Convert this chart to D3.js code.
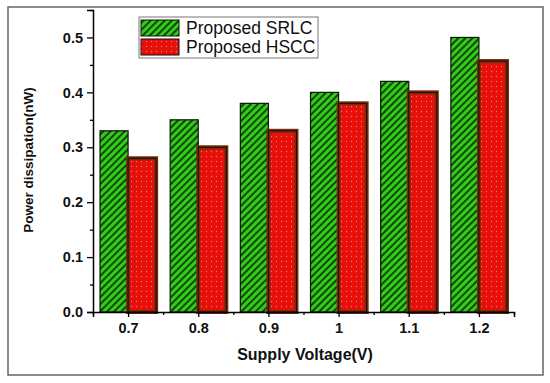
<!DOCTYPE html>
<html>
<head>
<meta charset="utf-8">
<script src="https://cdn.jsdelivr.net/npm/d3@7"></script>
<style>
  body { margin: 0; background: #fff; }
  svg { font-family: Arial, "Liberation Sans", sans-serif; }
</style>
</head>
<body>
<svg id="chart" width="550" height="383"></svg>
<script>
// 数据
const voltages = [0.7, 0.8, 0.9, 1.0, 1.1, 1.2];
const srlcValues = [0.33, 0.35, 0.38, 0.40, 0.42, 0.50];
const hsccValues = [0.28, 0.30, 0.33, 0.38, 0.40, 0.457];
const seriesNames = ['Proposed SRLC', 'Proposed HSCC'];
const yTicks = [0.0, 0.1, 0.2, 0.3, 0.4, 0.5];

const svg = d3.select('#chart');
const margin = { left: 93, right: 36, top: 10, bottom: 71 };
const W = 550, H = 383;

// 比例尺
const x = d3.scaleLinear().domain([0.65, 1.25]).range([margin.left, W - margin.right]);
const y = d3.scaleLinear().domain([0, 0.55]).range([H - margin.bottom, margin.top]);
const barW = 0.04;

// 填充图案
const defs = svg.append('defs');
const green = defs.append('pattern').attr('id', 'hatch')
    .attr('patternUnits', 'userSpaceOnUse').attr('width', 5).attr('height', 5)
    .attr('patternTransform', 'rotate(45)');
green.append('rect').attr('width', 5).attr('height', 5).attr('fill', '#33cc1a');
green.append('rect').attr('width', 2).attr('height', 5).attr('fill', '#0d4a08');

const red = defs.append('pattern').attr('id', 'dots')
    .attr('patternUnits', 'userSpaceOnUse').attr('width', 5).attr('height', 5);
red.append('rect').attr('width', 5).attr('height', 5).attr('fill', '#e60f0a');
red.append('circle').attr('cx', 1.5).attr('cy', 1.5).attr('r', 0.7).attr('fill', '#f07a60');

// 外框
svg.append('rect').attr('x', 8).attr('y', 7).attr('width', 535).attr('height', 368)
    .attr('fill', 'none').attr('stroke', '#666').attr('stroke-width', 1.5);

// 柱子
const g = svg.append('g');
g.selectAll('.srlc').data(voltages).enter().append('rect')
    .attr('x', d => x(d - barW))
    .attr('y', (d, i) => y(srlcValues[i]))
    .attr('width', d => x(d) - x(d - barW))
    .attr('height', (d, i) => y(0) - y(srlcValues[i]))
    .attr('fill', 'url(#hatch)').attr('stroke', '#111').attr('stroke-width', 1.2);

g.selectAll('.hscc').data(voltages).enter().append('rect')
    .attr('x', d => x(d))
    .attr('y', (d, i) => y(hsccValues[i]))
    .attr('width', d => x(d + barW) - x(d))
    .attr('height', (d, i) => y(0) - y(hsccValues[i]))
    .attr('fill', 'url(#dots)').attr('stroke', '#7a2a0a').attr('stroke-width', 4);
g.selectAll('.hsccEdge').data(voltages).enter().append('rect')
    .attr('x', d => x(d))
    .attr('y', (d, i) => y(hsccValues[i]))
    .attr('width', d => x(d + barW) - x(d))
    .attr('height', (d, i) => y(0) - y(hsccValues[i]))
    .attr('fill', 'none').attr('stroke', '#111').attr('stroke-width', 1);

// 坐标轴
svg.append('g').attr('transform', `translate(0,${y(0)})`)
    .call(d3.axisBottom(x).tickValues(voltages).tickSize(5).tickPadding(6)
        .tickFormat(d => d === 1 ? '1' : d3.format('.1f')(d)));
svg.append('g').attr('transform', `translate(0,${y(0)})`)
    .call(d3.axisBottom(x).tickValues(d3.range(0.65, 1.26, 0.1)).tickSize(3).tickFormat(''))
    .select('.domain').remove();

svg.append('g').attr('transform', `translate(${x(0.65)},0)`)
    .call(d3.axisLeft(y).tickValues(yTicks).tickSize(6).tickPadding(4)
        .tickFormat(d3.format('.1f')));
svg.append('g').attr('transform', `translate(${x(0.65)},0)`)
    .call(d3.axisLeft(y).tickValues([0.05, 0.15, 0.25, 0.35, 0.45, 0.55]).tickSize(3).tickFormat(''))
    .select('.domain').remove();

svg.selectAll('.domain').attr('stroke', '#000').attr('stroke-width', 1.5);
svg.selectAll('.tick line').attr('stroke', '#000').attr('stroke-width', 1.3);
svg.selectAll('.tick text').attr('font-size', 14.5).attr('font-weight', 'bold')
    .attr('font-family', 'Arial, "Liberation Sans", sans-serif').attr('fill', '#111');

// 轴标题
svg.append('text').attr('x', 305).attr('y', 360).attr('text-anchor', 'middle')
    .attr('font-size', 16).attr('font-weight', 'bold').attr('fill', '#111')
    .text('Supply Voltage(V)');
svg.append('text').attr('transform', 'translate(33,160) rotate(-90)')
    .attr('text-anchor', 'middle')
    .attr('font-size', 13.5).attr('font-weight', 'bold').attr('fill', '#111')
    .text('Power dissipation(nW)');

// 图例
const lg = svg.append('g');
lg.append('rect').attr('x', 139).attr('y', 17).attr('width', 179).attr('height', 41)
    .attr('fill', '#fff').attr('stroke', '#777').attr('stroke-width', 1);
const swatches = ['url(#hatch)', 'url(#dots)'];
seriesNames.forEach((name, i) => {
    lg.append('rect').attr('x', 141).attr('y', 20 + i * 19).attr('width', 38).attr('height', 16)
        .attr('fill', swatches[i]).attr('stroke', '#111').attr('stroke-width', 1);
    lg.append('text').attr('x', 186).attr('y', 34 + i * 19)
        .attr('font-size', 17.5).attr('fill', '#111').text(name);
});
</script>
</body>
</html>
